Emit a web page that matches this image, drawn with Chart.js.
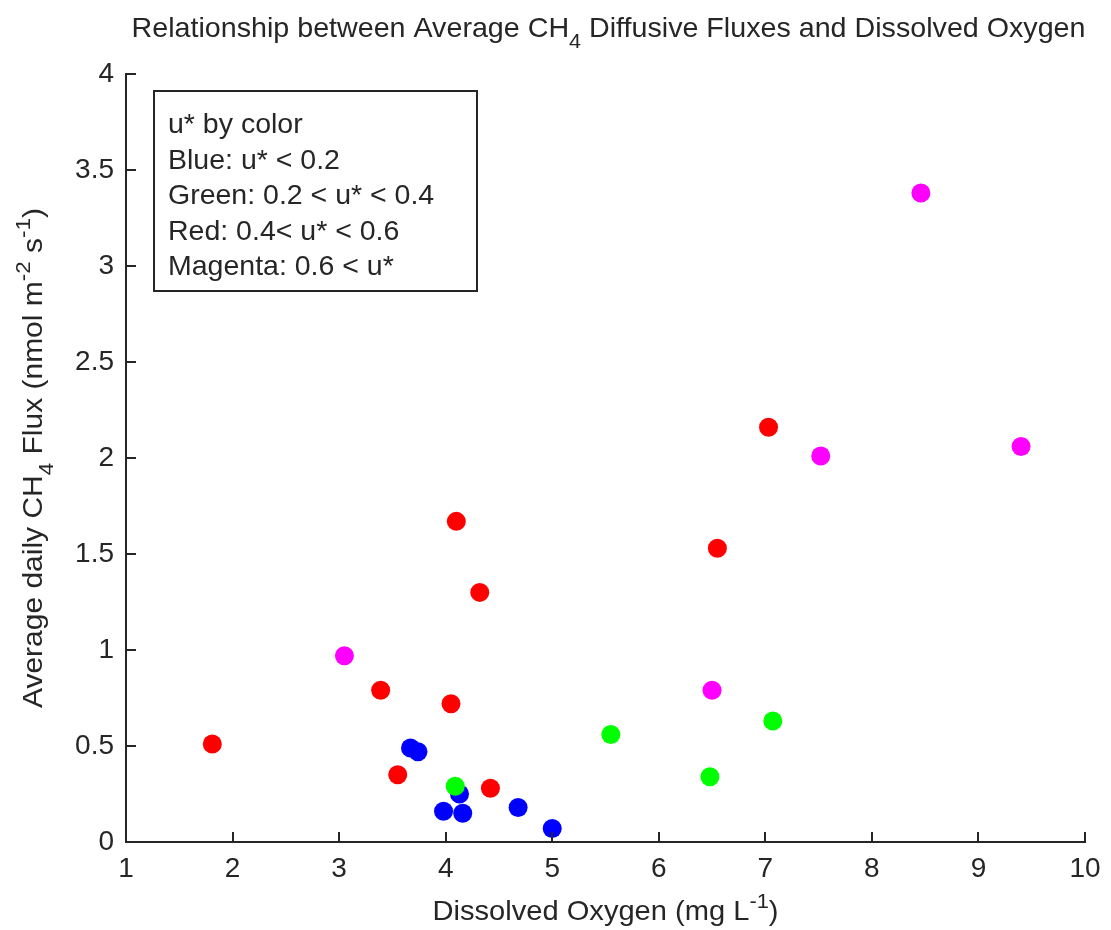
<!DOCTYPE html>
<html>
<head>
<meta charset="utf-8">
<script src="https://cdn.jsdelivr.net/npm/chart.js@4/dist/chart.umd.min.js"></script>
<style>
  html, body { margin: 0; padding: 0; background: #fff; }
  #wrap { width: 1111px; height: 930px; }
</style>
</head>
<body>
<div id="wrap"><canvas id="chart" width="1111" height="930"></canvas></div>
<script>
// ── Data ──────────────────────────────────────────────────────────────
const blueDO    = [3.67, 3.74, 3.98, 4.16, 4.13, 4.68, 5.00];
const blueFlux  = [0.49, 0.47, 0.16, 0.15, 0.25, 0.18, 0.07];

const greenDO   = [4.09, 5.55, 6.48, 7.07];
const greenFlux = [0.29, 0.56, 0.34, 0.63];

const redDO     = [1.81, 3.39, 3.55, 4.05, 4.10, 4.32, 4.42, 6.55, 7.03];
const redFlux   = [0.51, 0.79, 0.35, 0.72, 1.67, 1.30, 0.28, 1.53, 2.16];

const magDO     = [3.05, 6.50, 7.52, 8.46, 9.40];
const magFlux   = [0.97, 0.79, 2.01, 3.38, 2.06];

const legendLines = [
  'u* by color',
  'Blue: u* < 0.2',
  'Green: 0.2 < u* < 0.4',
  'Red: 0.4< u* < 0.6',
  'Magenta: 0.6 < u*',
];

const FONT = '"Liberation Sans", Arial, sans-serif';
const INK  = '#262626';

const toPts = (xs, ys) => xs.map((x, i) => ({ x, y: ys[i] }));

// rich text runs: [text, 'n' | 'sub' | 'sup']
function partFont(k, size) {
  return `${k === 'n' ? size : Math.round(size * 0.75)}px ${FONT}`;
}
function richWidth(ctx, parts, size) {
  let w = 0;
  parts.forEach(([t, k]) => { ctx.font = partFont(k, size); w += ctx.measureText(t).width; });
  return w;
}
// draws centred on cx, squeezed/stretched to the width seen in the reference
function drawRich(ctx, parts, cx, baseY, size, target) {
  const w = richWidth(ctx, parts, size);
  const sx = target ? target / w : 1;
  ctx.save();
  ctx.translate(cx - (w * sx) / 2, baseY);
  ctx.scale(sx, 1);
  ctx.textAlign = 'left';
  ctx.textBaseline = 'alphabetic';
  let x = 0;
  parts.forEach(([t, k]) => {
    ctx.font = partFont(k, size);
    const dy = k === 'sub' ? size * 0.38 : k === 'sup' ? -size * 0.42 : 0;
    ctx.fillText(t, x, dy);
    x += ctx.measureText(t).width;
  });
  ctx.restore();
}

// ── Decorations: inward ticks, titles, legend box ─────────────────────
const decorations = {
  id: 'decorations',
  afterDraw(chart) {
    const { ctx, chartArea: a, scales: { x, y } } = chart;
    ctx.save();
    ctx.strokeStyle = INK;
    ctx.fillStyle = INK;
    ctx.lineWidth = 2;

    // ticks pointing into the plot
    ctx.beginPath();
    x.ticks.forEach(t => {
      const px = Math.round(x.getPixelForValue(t.value));
      ctx.moveTo(px, a.bottom);
      ctx.lineTo(px, a.bottom - 10);
    });
    y.ticks.forEach(t => {
      const py = Math.round(y.getPixelForValue(t.value));
      ctx.moveTo(a.left, py);
      ctx.lineTo(a.left + 10, py);
    });
    ctx.stroke();

    const mid = (a.left + a.right) / 2;

    // title
    drawRich(ctx, [
      ['Relationship between Average CH', 'n'], ['4', 'sub'],
      [' Diffusive Fluxes and Dissolved Oxygen', 'n'],
    ], mid + 3, 37, 28, 954);

    // x axis title
    drawRich(ctx, [['Dissolved Oxygen (mg L', 'n'], ['-1', 'sup'], [')', 'n']],
      mid, 920, 28, 346);

    // y axis title
    ctx.save();
    ctx.translate(42, 458);
    ctx.rotate(-Math.PI / 2);
    drawRich(ctx, [
      ['Average daily CH', 'n'], ['4', 'sub'], [' Flux (nmol m', 'n'],
      ['-2', 'sup'], [' s', 'n'], ['-1', 'sup'], [')', 'n'],
    ], 0, 0, 28, 500);
    ctx.restore();

    // legend text box
    const bx = 154, by = 91, bw = 323, bh = 200;
    ctx.fillStyle = '#fff';
    ctx.fillRect(bx, by, bw, bh);
    ctx.strokeRect(bx, by, bw, bh);
    ctx.fillStyle = INK;
    ctx.font = `28.5px ${FONT}`;
    ctx.textAlign = 'left';
    ctx.textBaseline = 'alphabetic';
    legendLines.forEach((line, i) => ctx.fillText(line, bx + 14, 133 + i * 35.5));
    ctx.restore();
  },
};

const scatterSet = (label, pts, color) => ({
  label,
  data: pts,
  backgroundColor: color,
  borderWidth: 0,
  pointRadius: 9.5,
  pointHoverRadius: 9.5,
});

new Chart(document.getElementById('chart'), {
  type: 'scatter',
  data: {
    datasets: [
      scatterSet('Red',     toPts(redDO, redFlux),     '#ff0000'),
      scatterSet('Magenta', toPts(magDO, magFlux),     '#ff00ff'),
      scatterSet('Green',   toPts(greenDO, greenFlux), '#00ff00'),
      scatterSet('Blue',    toPts(blueDO, blueFlux),   '#0000ff'),
    ],
  },
  options: {
    responsive: false,
    animation: false,
    layout: { padding: { left: 0, top: 74, right: 26, bottom: 0 } },
    scales: {
      x: {
        type: 'linear',
        min: 1, max: 10,
        ticks: { stepSize: 1, padding: 10, color: INK, font: { family: FONT, size: 28 } },
        grid: { drawOnChartArea: false, drawTicks: false },
        border: { display: true, color: INK, width: 2 },
        afterFit: s => { s.height = 88; },
      },
      y: {
        type: 'linear',
        min: 0, max: 4,
        ticks: {
          stepSize: 0.5, padding: 12, color: INK, font: { family: FONT, size: 28 },
          callback: v => `${v}`,
        },
        grid: { drawOnChartArea: false, drawTicks: false },
        border: { display: true, color: INK, width: 2 },
        afterFit: s => { s.width = 126; },
      },
    },
    plugins: {
      legend: { display: false },
      tooltip: { enabled: false },
    },
  },
  plugins: [decorations],
});
</script>
</body>
</html>
